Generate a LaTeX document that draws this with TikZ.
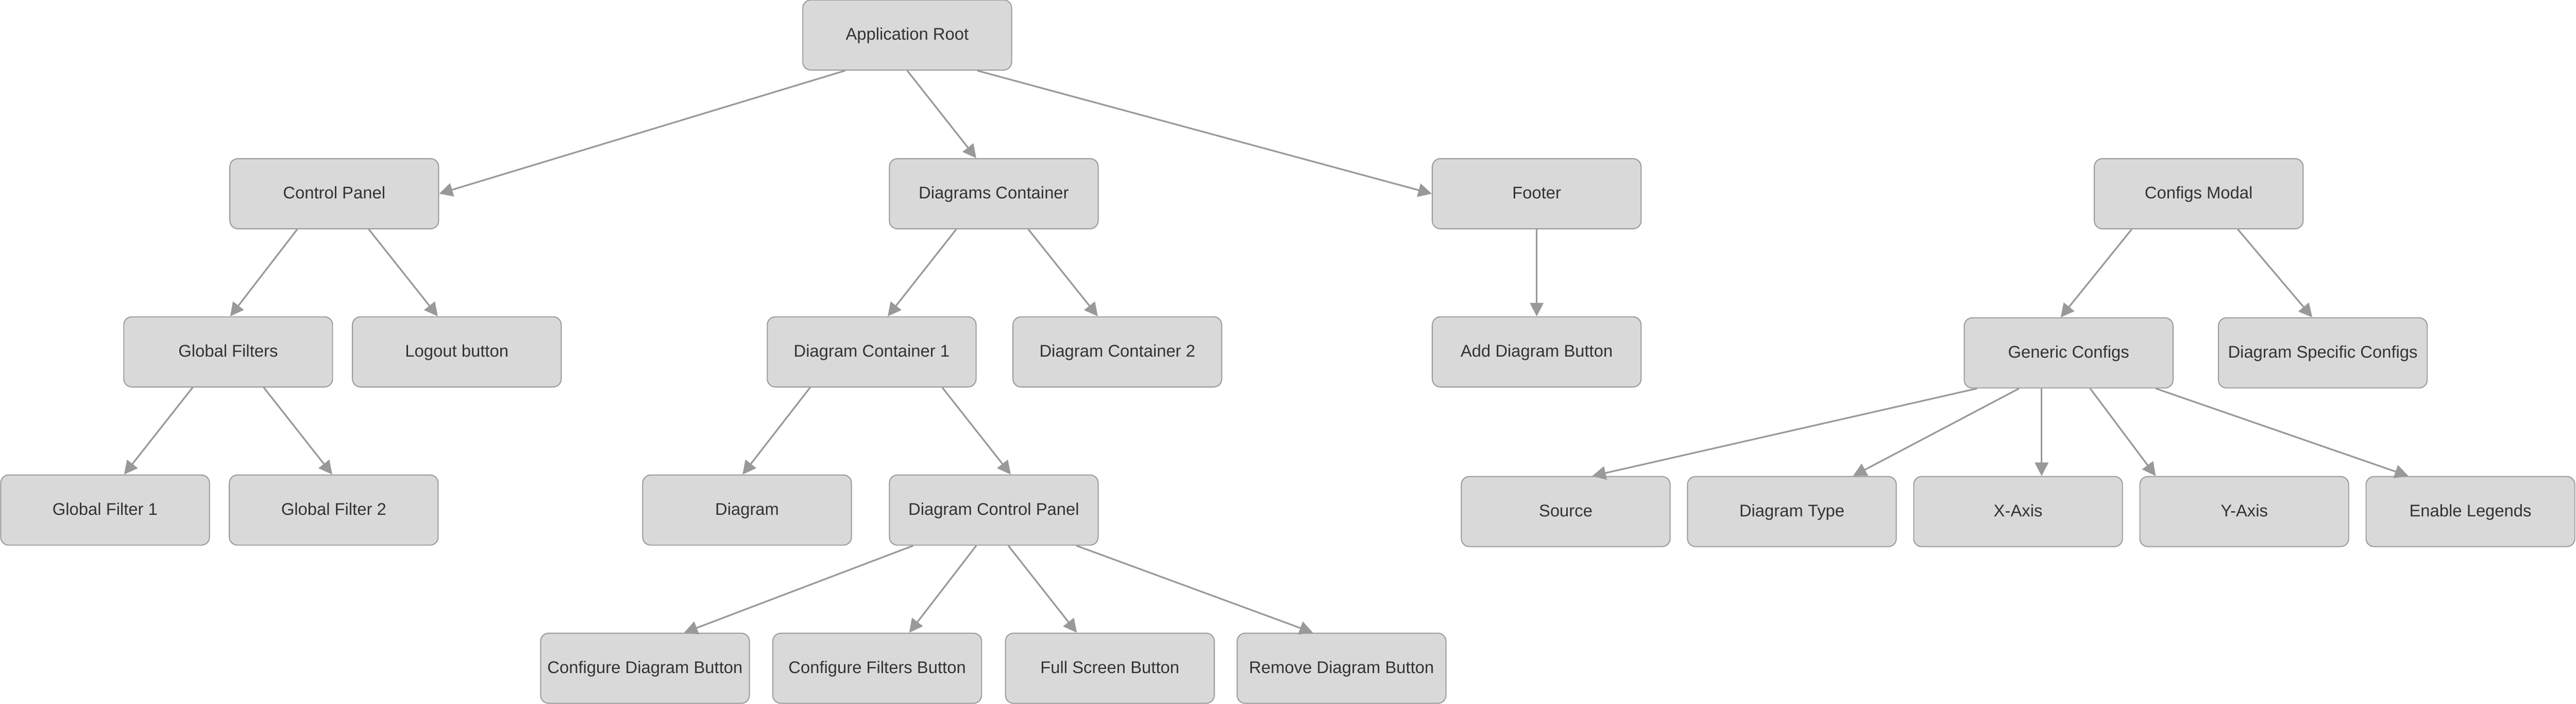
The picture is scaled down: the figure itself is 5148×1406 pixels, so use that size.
\documentclass[tikz,border=0pt]{standalone}
\usepackage{fontspec}
\setmainfont{Liberation Sans}
\usetikzlibrary{arrows.meta,calc}
\definecolor{boxfill}{HTML}{D9D9D9}
\definecolor{boxline}{HTML}{999999}
\definecolor{textgray}{HTML}{333333}
\tikzset{
    comp/.style={draw=boxline, fill=boxfill, line width=0.57pt, rounded corners=0.16cm,
        minimum width=4.17cm, minimum height=1.40cm, inner sep=0pt, text=textgray,
        text height=0.245cm, text depth=0.04cm,
        font=\fontsize{9.6pt}{11.5pt}\selectfont},
    link/.style={draw=boxline, line width=0.92pt, -{Triangle[length=0.27cm,width=0.27cm]}}
}
\begin{document}
\begin{tikzpicture}[x=0.01cm, y=-0.01cm]
    \useasboundingbox (0,0) rectangle (5148,1406);

    % level 0
    \node[comp] (ar) at (1813,70) {Application Root};

    % level 1
    \node[comp] (cp) at (668,387) {Control Panel};
    \node[comp] (dc) at (1986,387) {Diagrams Container};
    \node[comp] (foot) at (3071,387) {Footer};
    \node[comp] (cm) at (4394,387) {Configs Modal};

    % level 2
    \node[comp] (gf) at (456,703) {Global Filters};
    \node[comp] (logout) at (913,703) {Logout button};
    \node[comp] (dc1) at (1742,703) {Diagram Container 1};
    \node[comp] (dc2) at (2233,703) {Diagram Container 2};
    \node[comp] (add) at (3071,703) {Add Diagram Button};
    \node[comp] (gc) at (4134,705) {Generic Configs};
    \node[comp] (dsc) at (4642,705) {Diagram Specific Configs};

    % level 3
    \node[comp] (gf1) at (210,1019) {Global Filter 1};
    \node[comp] (gf2) at (667,1019) {Global Filter 2};
    \node[comp] (diag) at (1493,1019) {Diagram};
    \node[comp] (dcp) at (1986,1019) {Diagram Control Panel};
    \node[comp] (src) at (3129,1022) {Source};
    \node[comp] (dtype) at (3581,1022) {Diagram Type};
    \node[comp] (xax) at (4033,1022) {X-Axis};
    \node[comp] (yax) at (4485,1022) {Y-Axis};
    \node[comp] (leg) at (4937,1022) {Enable Legends};

    % level 4
    \node[comp] (cdb) at (1289,1335) {Configure Diagram Button};
    \node[comp] (cfb) at (1753,1335) {Configure Filters Button};
    \node[comp] (fsb) at (2218,1335) {Full Screen Button};
    \node[comp] (rdb) at (2681,1335) {Remove Diagram Button};

    % edges
    \draw[link] ($(ar.south)+(-124,0)$) -- (cp.east);
    \draw[link] (ar.south) -- ($(dc.north)+(-35,0)$);
    \draw[link] ($(ar.south)+(140,0)$) -- (foot.west);

    \draw[link] ($(cp.south)+(-74,0)$) -- ($(gf.north)+(4,0)$);
    \draw[link] ($(cp.south)+(69,0)$) -- ($(logout.north)+(-38,0)$);
    \draw[link] ($(gf.south)+(-71,0)$) -- ($(gf1.north)+(38,0)$);
    \draw[link] ($(gf.south)+(71,0)$) -- ($(gf2.north)+(-3,0)$);

    \draw[link] ($(dc.south)+(-75,0)$) -- ($(dc1.north)+(32,0)$);
    \draw[link] ($(dc.south)+(69,0)$) -- ($(dc2.north)+(-39,0)$);
    \draw[link] ($(dc1.south)+(-123,0)$) -- ($(diag.north)+(-9,0)$);
    \draw[link] ($(dc1.south)+(141,0)$) -- ($(dcp.north)+(34,0)$);

    \draw[link] ($(dcp.south)+(-161,0)$) -- ($(cdb.north)+(78,0)$);
    \draw[link] ($(dcp.south)+(-35,0)$) -- ($(cfb.north)+(64,0)$);
    \draw[link] ($(dcp.south)+(29,0)$) -- ($(fsb.north)+(-66,0)$);
    \draw[link] ($(dcp.south)+(165,0)$) -- ($(rdb.north)+(-57,0)$);

    \draw[link] (foot.south) -- (add.north);

    \draw[link] ($(cm.south)+(-134,0)$) -- ($(gc.north)+(-16,0)$);
    \draw[link] ($(cm.south)+(78,0)$) -- ($(dsc.north)+(-21,0)$);

    \draw[link] ($(gc.south)+(-183,0)$) -- ($(src.north)+(53,0)$);
    \draw[link] ($(gc.south)+(-99,0)$) -- ($(dtype.north)+(122,0)$);
    \draw[link] ($(gc.south)+(-54,0)$) -- ($(xax.north)+(47,0)$);
    \draw[link] ($(gc.south)+(43,0)$) -- ($(yax.north)+(-177,0)$);
    \draw[link] ($(gc.south)+(174,0)$) -- ($(leg.north)+(-124,0)$);
\end{tikzpicture}
\end{document}
